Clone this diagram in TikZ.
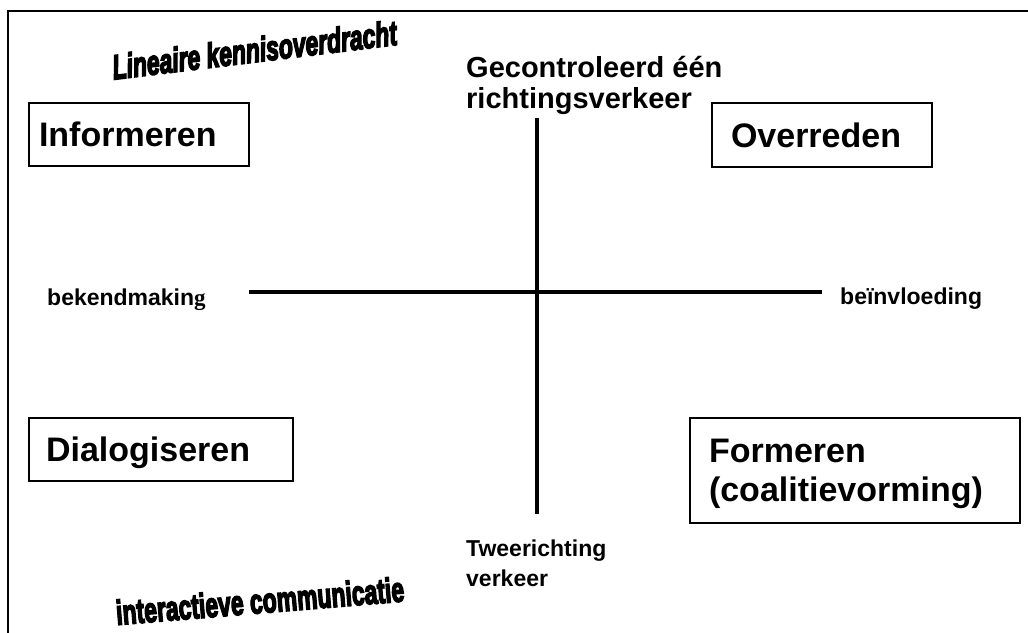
\documentclass[tikz,border=0pt]{standalone}
\usepackage{fontspec}
\setmainfont{Liberation Sans}
\newfontfamily\serifg{Liberation Serif}
\newfontfamily\artfont[FakeBold=5]{Liberation Sans}
\usepackage{tikz}

\begin{document}
\begin{tikzpicture}[
  x=1pt, y=-1pt,
  quadrant/.style={draw, line width=2pt, align=left, inner ysep=0pt, text depth=0pt,
    font=\fontsize{34}{39}\selectfont\bfseries},
  axislabel/.style={align=left, inner sep=0pt,
    font=\fontsize{23}{30}\selectfont\bfseries},
  axis/.style={line width=4pt},
  wordart/.style={inner sep=0pt, font=\artfont\fontsize{23}{24}\selectfont\bfseries}
]
  \useasboundingbox (0,0) rectangle (1028,632);
  \clip (0,0) rectangle (1028,632);
  \draw[line width=2pt] (8,11) rectangle (1040,650);

  % the four quadrants
  \node[quadrant, text width=200pt, inner xsep=10pt, minimum height=63pt] (informeren) at (139,134.5) {Informeren};
  \node[quadrant, text width=182pt, inner xsep=19pt, minimum height=64pt] (overreden) at (822,135) {Overreden};
  \node[quadrant, text width=230pt, inner xsep=17pt, minimum height=63pt] (dialogiseren) at (161,449.5) {Dialogiseren};
  \node[quadrant, text width=292pt, inner xsep=19pt, minimum height=105pt, text depth=39pt] (formeren) at (855,470.5) {Formeren\\(coalitievorming)};

  % axes
  \coordinate (top) at (537,118);
  \coordinate (bottom) at (537,514);
  \coordinate (left) at (249,292);
  \coordinate (right) at (822,292);
  \draw[axis] (top) -- (bottom);
  \draw[axis] (left) -- (right);

  \node[axislabel, anchor=north west, font=\fontsize{29}{31}\selectfont\bfseries] (gecontroleerd) at (466,56) {Gecontroleerd één\\richtingsverkeer};
  \node[axislabel, anchor=north west] (tweerichting) at (466,540) {Tweerichting\\verkeer};
  \node[axislabel, anchor=base west] (bekendmaking) at (47,305) {bekendmakin{\serifg g}};
  \node[axislabel, anchor=base west] (beinvloeding) at (840,304) {beïnvloeding};

  % slanted titles
  \node[wordart, rotate=7, anchor=base] (lineair) at (256,62) {\itshape\scalebox{1}[1.5]{Lineaire kennisoverdracht}};
  \node[wordart, rotate=4.7, anchor=base] (interactief) at (261,613) {\scalebox{1}[1.5]{interactieve communicatie}};
\end{tikzpicture}
\end{document}
